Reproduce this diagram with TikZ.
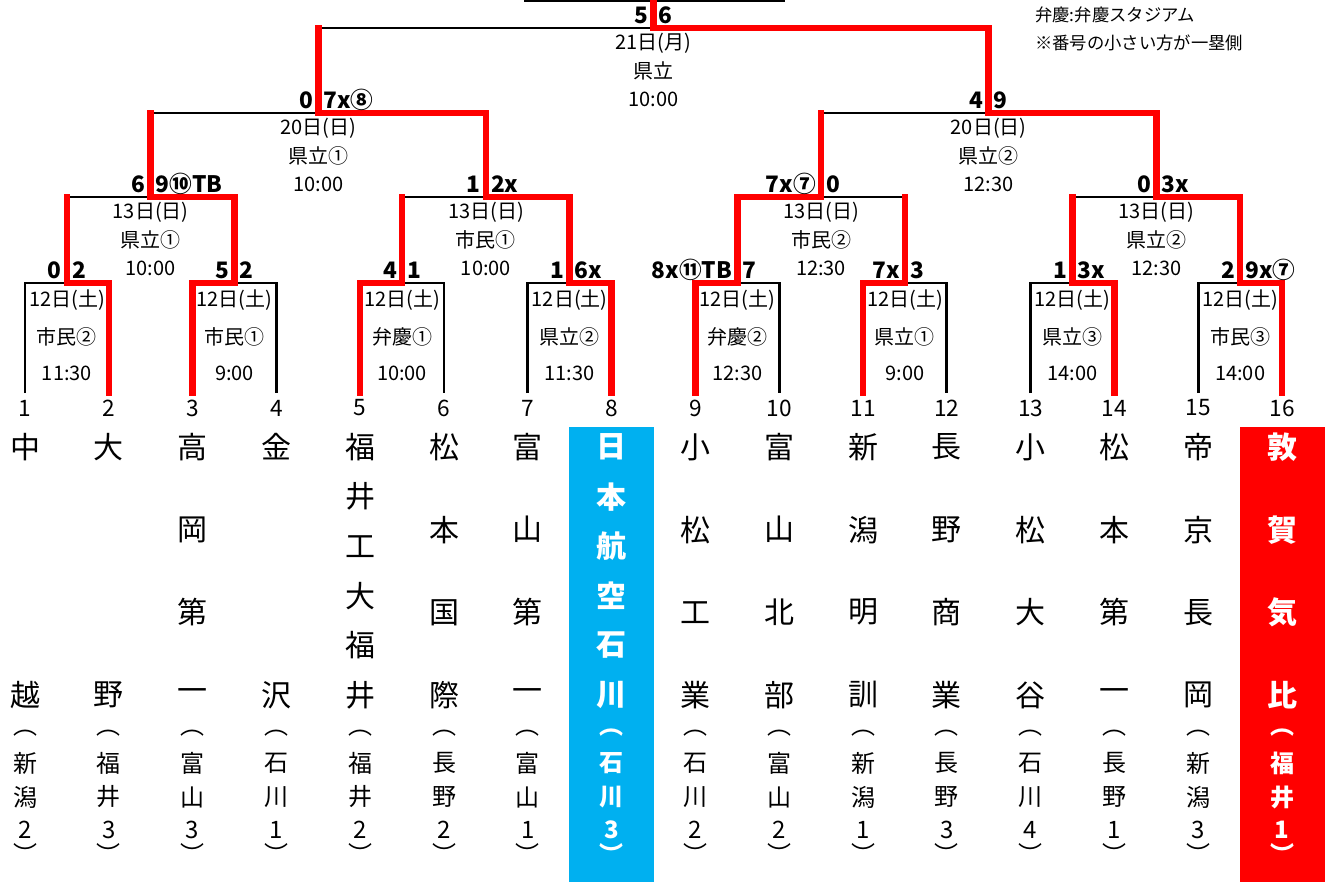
\documentclass[tikz,border=0pt]{standalone}
\usepackage{fontspec}
\setmainfont{Noto Sans CJK JP}
\usetikzlibrary{calc}
\definecolor{jalblue}{HTML}{00B0F0}
\tikzstyle{bracket} = [line width=2pt]
\tikzstyle{win} = [line width=4.9pt,red,line cap=rect]
\tikzstyle{kanji} = [font=\fontsize{22.5}{22.5}\selectfont,inner sep=0]
\tikzstyle{pref} = [font=\fontsize{18}{18}\selectfont,inner sep=0]
\tikzstyle{num} = [font=\fontsize{17}{17}\selectfont,inner sep=0]
\tikzstyle{info} = [font=\fontsize{15}{15}\selectfont,inner sep=0]
\tikzstyle{score} = [font=\fontsize{17}{17}\selectfont\bfseries,inner sep=0]
\tikzstyle{note} = [font=\fontsize{13}{13}\selectfont,inner sep=0]
\tikzstyle{hl} = [text=white,execute at begin node=\bfseries]

% one team column: chars of the name, then the prefecture in brackets
\newcommand{\teamcol}[7][]{%
  \foreach \c [count=\j] in {#4}
    \node[kanji,#1] (n#2-\j) at ($(t#2)+(0,{54+(\j-1)*248/(#3-1)})$) {\c};
  \node[pref,#1] (p#2-1) at ($(t#2)+(0,340)$) {︵};
  \node[pref,#1] (p#2-2) at ($(t#2)+(0,370)$) {#5};
  \node[pref,#1] (p#2-3) at ($(t#2)+(0,404)$) {#6};
  \node[pref,#1] (p#2-4) at ($(t#2)+(0,437)$) {#7};
  \node[pref,#1] (p#2-5) at ($(t#2)+(0,460)$) {︶};
}
\newcommand{\gameinfo}[6]{%
  \node[info] (#1d) at ($(#1)+(0,#2)$) {#4};
  \node[info] (#1p) at ($(#1)+(0,#2+#3)$) {#5};
  \node[info] (#1h) at ($(#1)+(0,#2+2*#3)$) {#6};
}
\newcommand{\scorepair}[3]{%
  \node[score,anchor=base east] (#1l) at ($(#1)+(-5,-5)$) {#2};
  \node[score,anchor=base west] (#1r) at ($(#1)+(5,-5)$) {#3};
}

\begin{document}
\begin{tikzpicture}[x=0.75pt,y=-0.75pt]
\useasboundingbox (0,0) rectangle (1330,882);

% bracket points
\foreach \i in {1,...,16}
  \coordinate (t\i) at ({25+(\i-1)*83.8},393);
\foreach \k in {1,...,8}
  \coordinate (a\k) at ({25+(2*\k-1.5)*83.8},283);
\foreach \k in {1,...,4}
  \coordinate (b\k) at ({25+(4*\k-2.5)*83.8},197);
\coordinate (q1) at ({25+3.5*83.8},113);
\coordinate (q2) at ({25+11.5*83.8},113);
\coordinate (f) at ({25+7.5*83.8},28);
\coordinate (top) at ({25+7.5*83.8},1);
\coordinate (champL) at (524,1);
\coordinate (champR) at (785,1);

% finalists
\fill[jalblue] (569,427) rectangle (654,882);
\fill[red] (1240,427) rectangle (1325,882);

% black bracket
\foreach \k [evaluate=\k as \l using int(2*\k-1), evaluate=\k as \r using int(2*\k)] in {1,...,8}
  \draw[bracket] (t\l) |- (a\k) -| (t\r);
\foreach \k [evaluate=\k as \l using int(2*\k-1), evaluate=\k as \r using int(2*\k)] in {1,...,4}
  \draw[bracket] (a\l) |- (b\k) -| (a\r);
\draw[bracket] (b1) |- (q1) -| (b2);
\draw[bracket] (b3) |- (q2) -| (b4);
\draw[bracket] (q1) |- (f) -| (q2);
\draw[bracket] (champL) -- (champR);

% winners
\foreach \m/\w in {a1/t2,a2/t3,a3/t5,a4/t8,a5/t9,a6/t11,a7/t14,a8/t16,b1/a2,b2/a4,b3/a5,b4/a8,q1/b2,q2/b4,f/q2}
  \draw[win] (\m) -| (\w);
\foreach \m/\p in {a1/b1,a2/b1,a3/b2,a4/b2,a5/b3,a6/b3,a7/b4,a8/b4,b1/q1,b2/q1,b3/q2,b4/q2,q1/f,q2/f,f/top}
  \draw[win] (\m) -- (\m |- \p);

% scores
\scorepair{a1}{0}{2}
\scorepair{a2}{5}{2}
\scorepair{a3}{4}{1}
\scorepair{a4}{1}{6x}
\scorepair{a5}{8x⑪TB}{7}
\scorepair{a6}{7x}{3}
\scorepair{a7}{1}{3x}
\scorepair{a8}{2}{9x⑦}
\scorepair{b1}{6}{9⑩TB}
\scorepair{b2}{1}{2x}
\scorepair{b3}{7x⑦}{0}
\scorepair{b4}{0}{3x}
\scorepair{q1}{0}{7x⑧}
\scorepair{q2}{4}{9}
\scorepair{f}{5}{6}

% dates, grounds, times
\gameinfo{a1}{17}{36.5}{12日(土)}{市民②}{11:30}
\gameinfo{a2}{17}{36.5}{12日(土)}{市民①}{9:00}
\gameinfo{a3}{17}{36.5}{12日(土)}{弁慶①}{10:00}
\gameinfo{a4}{17}{36.5}{12日(土)}{県立②}{11:30}
\gameinfo{a5}{17}{36.5}{12日(土)}{弁慶②}{12:30}
\gameinfo{a6}{17}{36.5}{12日(土)}{県立①}{9:00}
\gameinfo{a7}{17}{36.5}{12日(土)}{県立③}{14:00}
\gameinfo{a8}{17}{36.5}{12日(土)}{市民③}{14:00}
\gameinfo{b1}{15}{28}{13日(日)}{県立①}{10:00}
\gameinfo{b2}{15}{28}{13日(日)}{市民①}{10:00}
\gameinfo{b3}{15}{28}{13日(日)}{市民②}{12:30}
\gameinfo{b4}{15}{28}{13日(日)}{県立②}{12:30}
\gameinfo{q1}{15}{28}{20日(日)}{県立①}{10:00}
\gameinfo{q2}{15}{28}{20日(日)}{県立②}{12:30}
\gameinfo{f}{15}{28}{21日(月)}{県立}{10:00}

\node[note,anchor=west] (note1) at (1035,15) {弁慶:弁慶スタジアム};
\node[note,anchor=west] (note2) at (1035,43) {※番号の小さい方が一塁側};

% draw numbers and teams
\foreach \i in {1,...,16}
  \node[num] (num\i) at ($(t\i)+(0,15)$) {\i};
\teamcol{1}{2}{中,越}{新}{潟}{2}
\teamcol{2}{2}{大,野}{福}{井}{3}
\teamcol{3}{4}{高,岡,第,一}{富}{山}{3}
\teamcol{4}{2}{金,沢}{石}{川}{1}
\teamcol{5}{6}{福,井,工,大,福,井}{福}{井}{2}
\teamcol{6}{4}{松,本,国,際}{長}{野}{2}
\teamcol{7}{4}{富,山,第,一}{富}{山}{1}
\teamcol[hl]{8}{6}{日,本,航,空,石,川}{石}{川}{3}
\teamcol{9}{4}{小,松,工,業}{石}{川}{2}
\teamcol{10}{4}{富,山,北,部}{富}{山}{2}
\teamcol{11}{4}{新,潟,明,訓}{新}{潟}{1}
\teamcol{12}{4}{長,野,商,業}{長}{野}{3}
\teamcol{13}{4}{小,松,大,谷}{石}{川}{4}
\teamcol{14}{4}{松,本,第,一}{長}{野}{1}
\teamcol{15}{4}{帝,京,長,岡}{新}{潟}{3}
\teamcol[hl]{16}{4}{敦,賀,気,比}{福}{井}{1}
\end{tikzpicture}
\end{document}
